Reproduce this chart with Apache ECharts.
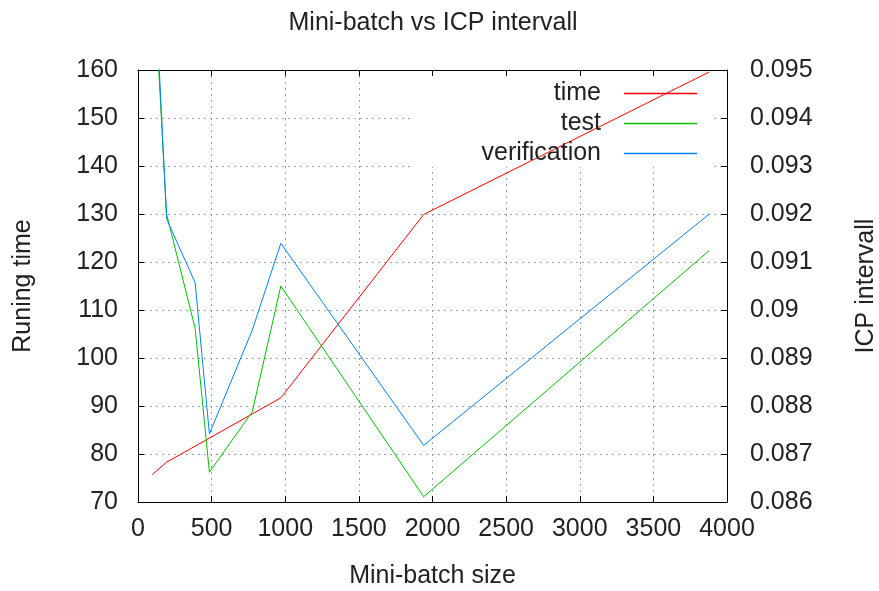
<!DOCTYPE html>
<html>
<head>
<meta charset="utf-8">
<title>Mini-batch vs ICP intervall</title>
<script src="https://cdn.jsdelivr.net/npm/echarts@6/dist/echarts.min.js"></script>
<style>
  html, body { margin: 0; padding: 0; background: #fff; }
  #chart { width: 879px; height: 591px; }
</style>
</head>
<body>
<div id="chart"></div>
<script>
'use strict';

// values
const seriesNames = ['time', 'test', 'verification'];
const timeBatch = [97, 194, 485, 970, 1940, 3880];
const timeValues = [75.7, 78.3, 83.3, 91.7, 129.9, 159.6];
const icpBatch = [97, 194, 388, 485, 776, 970, 1940, 3880];
const testValues = [0.0975, 0.0920, 0.08962, 0.08662, 0.08788, 0.0905, 0.08611, 0.09124];
const verificationValues = [0.0980, 0.0919, 0.09057, 0.08742, 0.08958, 0.09139, 0.08718, 0.09200];
const xTicks = { min: 0, max: 4000, step: 500 };
const timeTicks = { min: 70, max: 160, step: 10 };
const icpTicks = { min: 0.086, max: 0.095, step: 0.001 };

const FONT = '"Liberation Sans", Arial, sans-serif';
const INK = '#222';
const colors = ['#ff0000', '#00c000', '#0080ff'];

function pairs(xs, ys) {
  return xs.map((x, i) => [x, ys[i]]);
}

// gnuplot style tick text: no thousands separator, trailing zeros dropped
function plain(v) {
  return String(parseFloat(v.toFixed(3)));
}

const gridLine = { show: true, lineStyle: { color: '#a0a0a0', type: [2, 4], width: 1 } };
const border = { show: true, onZero: false, lineStyle: { color: '#000', width: 1 } };
const tick = { show: true, inside: true, length: 6, lineStyle: { color: '#000' } };
const label = { color: INK, fontFamily: FONT, fontSize: 25, formatter: plain };
const nameText = { color: INK, fontFamily: FONT, fontSize: 25 };

const chart = echarts.init(document.getElementById('chart'), null, { renderer: 'canvas' });

chart.setOption({
  animation: false,
  backgroundColor: '#fff',
  title: {
    text: 'Mini-batch vs ICP intervall',
    left: 428,
    top: 6,
    textAlign: 'center',
    textStyle: { color: INK, fontFamily: FONT, fontSize: 25, fontWeight: 'normal' }
  },
  grid: { left: 138, right: 152, top: 70, bottom: 89, outerBoundsMode: 'none', containLabel: false },
  legend: {
    data: seriesNames,
    orient: 'vertical',
    align: 'right',
    right: 182,
    top: 81,
    padding: 0,
    itemGap: 5,
    itemWidth: 73,
    itemHeight: 1.5,
    icon: 'rect',
    textStyle: { color: INK, fontFamily: FONT, fontSize: 25, padding: [0, 18, 0, 0] }
  },
  // gnuplot blanks the grid behind the key
  graphic: [{
    type: 'rect',
    z: 1,
    shape: { x: 413, y: 71, width: 298, height: 96 },
    style: { fill: '#fff' }
  }],
  xAxis: [{
    type: 'value',
    min: xTicks.min,
    max: xTicks.max,
    interval: xTicks.step,
    position: 'bottom',
    name: 'Mini-batch size',
    nameLocation: 'middle',
    nameGap: 62,
    nameTextStyle: nameText,
    axisLine: border,
    axisTick: tick,
    axisLabel: Object.assign({}, label, { margin: 15 }),
    splitLine: gridLine
  }, {
    type: 'value',
    min: xTicks.min,
    max: xTicks.max,
    interval: xTicks.step,
    position: 'top',
    z: 2,
    axisLine: border,
    axisTick: tick,
    axisLabel: { show: false },
    splitLine: { show: false }
  }],
  yAxis: [{
    type: 'value',
    min: timeTicks.min,
    max: timeTicks.max,
    interval: timeTicks.step,
    position: 'left',
    name: 'Runing time',
    nameLocation: 'middle',
    nameGap: 102,
    nameTextStyle: nameText,
    axisLine: border,
    axisTick: tick,
    axisLabel: Object.assign({}, label, { margin: 20 }),
    splitLine: gridLine
  }, {
    type: 'value',
    min: icpTicks.min,
    max: icpTicks.max,
    interval: icpTicks.step,
    position: 'right',
    name: 'ICP intervall',
    nameLocation: 'middle',
    nameGap: 127,
    nameTextStyle: nameText,
    axisLine: border,
    axisTick: tick,
    axisLabel: Object.assign({}, label, { margin: 23 }),
    splitLine: { show: false }
  }],
  series: [{
    name: seriesNames[0],
    type: 'line',
    yAxisIndex: 0,
    data: pairs(timeBatch, timeValues),
    showSymbol: false,
    symbol: 'none',
    clip: true,
    lineStyle: { color: colors[0], width: 1 },
    itemStyle: { color: colors[0] }
  }, {
    name: seriesNames[1],
    type: 'line',
    yAxisIndex: 1,
    data: pairs(icpBatch, testValues),
    showSymbol: false,
    symbol: 'none',
    clip: true,
    lineStyle: { color: colors[1], width: 1 },
    itemStyle: { color: colors[1] }
  }, {
    name: seriesNames[2],
    type: 'line',
    yAxisIndex: 1,
    data: pairs(icpBatch, verificationValues),
    showSymbol: false,
    symbol: 'none',
    clip: true,
    lineStyle: { color: colors[2], width: 1 },
    itemStyle: { color: colors[2] }
  }]
});
</script>
</body>
</html>
